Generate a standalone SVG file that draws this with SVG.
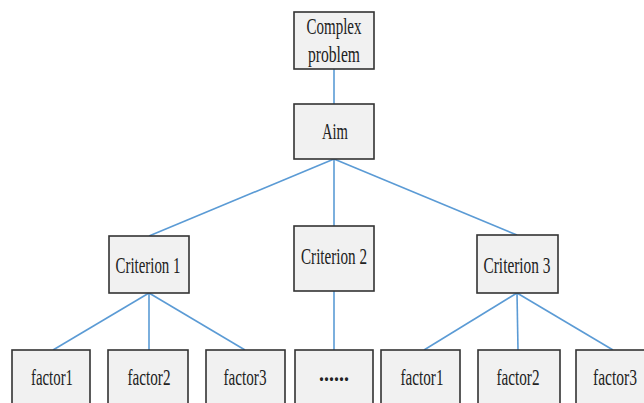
<svg xmlns="http://www.w3.org/2000/svg" width="644" height="403" viewBox="0 0 644 403">
<style>
.box{fill:#f1f1f1;stroke:#333;stroke-width:1.6}
.t{font-family:"Liberation Serif","Times New Roman",serif;font-size:23px;fill:#222;text-anchor:middle}
.c{stroke:#5b9bd5;stroke-width:1.6;fill:none}
</style>
<rect width="644" height="403" fill="#fff"/>
<g id="connectors">
<line class="c" x1="334" y1="69" x2="334" y2="104"/>
<line class="c" x1="334" y1="159" x2="149" y2="236"/>
<line class="c" x1="334" y1="159" x2="334" y2="226"/>
<line class="c" x1="334" y1="159" x2="517" y2="235"/>
<line class="c" x1="149" y1="293" x2="53" y2="350"/>
<line class="c" x1="149" y1="293" x2="149" y2="350"/>
<line class="c" x1="149" y1="293" x2="245" y2="350"/>
<line class="c" x1="334" y1="291" x2="334" y2="350"/>
<line class="c" x1="517" y1="293" x2="424" y2="350"/>
<line class="c" x1="517" y1="293" x2="518" y2="350"/>
<line class="c" x1="517" y1="293" x2="613" y2="350"/>
</g>
<g id="complex"><rect class="box" x="294" y="12" width="80" height="57"/><text class="t" x="334" y="34" textLength="55" lengthAdjust="spacingAndGlyphs">Complex</text><text class="t" x="334" y="62" textLength="52" lengthAdjust="spacingAndGlyphs">problem</text></g>
<g id="aim"><rect class="box" x="294" y="104" width="80" height="55"/><text class="t" x="335" y="139" textLength="26" lengthAdjust="spacingAndGlyphs">Aim</text></g>
<g id="crit1"><rect class="box" x="109" y="236" width="80" height="57"/><text class="t" x="148" y="273" textLength="65" lengthAdjust="spacingAndGlyphs">Criterion 1</text></g>
<g id="crit2"><rect class="box" x="294" y="226" width="80" height="65"/><text class="t" x="334" y="264" textLength="66" lengthAdjust="spacingAndGlyphs">Criterion 2</text></g>
<g id="crit3"><rect class="box" x="477" y="235" width="81" height="58"/><text class="t" x="517" y="273" textLength="67" lengthAdjust="spacingAndGlyphs">Criterion 3</text></g>
<g id="f1a"><rect class="box" x="12" y="350" width="78" height="60"/><text class="t" x="52" y="385" textLength="42" lengthAdjust="spacingAndGlyphs">factor1</text></g>
<g id="f2a"><rect class="box" x="108" y="350" width="80" height="60"/><text class="t" x="149" y="385" textLength="43" lengthAdjust="spacingAndGlyphs">factor2</text></g>
<g id="f3a"><rect class="box" x="206" y="350" width="79" height="60"/><text class="t" x="245" y="385" textLength="43" lengthAdjust="spacingAndGlyphs">factor3</text></g>
<g id="dots"><rect class="box" x="295" y="350" width="78" height="60"/><text class="t" x="334" y="381" textLength="30" lengthAdjust="spacingAndGlyphs" font-weight="bold">......</text></g>
<g id="f1b"><rect class="box" x="381" y="350" width="79" height="60"/><text class="t" x="422" y="385" textLength="43" lengthAdjust="spacingAndGlyphs">factor1</text></g>
<g id="f2b"><rect class="box" x="478" y="350" width="82" height="60"/><text class="t" x="518" y="385" textLength="43" lengthAdjust="spacingAndGlyphs">factor2</text></g>
<g id="f3b"><rect class="box" x="576" y="350" width="80" height="60"/><text class="t" x="615" y="385" textLength="44" lengthAdjust="spacingAndGlyphs">factor3</text></g>
</svg>
